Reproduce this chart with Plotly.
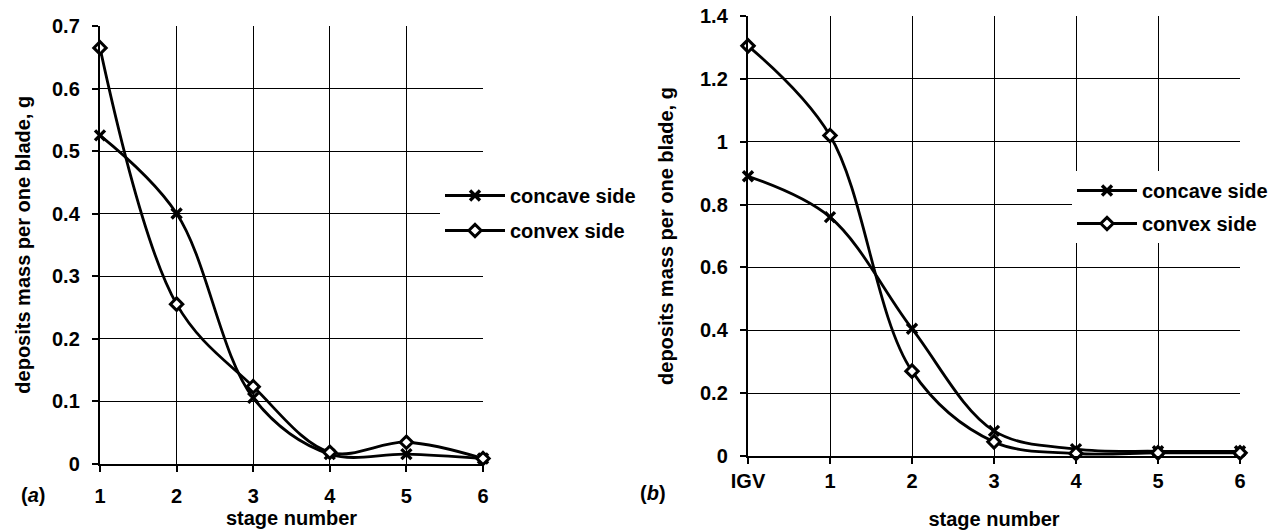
import plotly.graph_objects as go

W, H = 1286, 530

# ---------- data ----------
stages_a = ["1", "2", "3", "4", "5", "6"]
concave_a = [0.525, 0.40, 0.105, 0.015, 0.015, 0.008]
convex_a = [0.665, 0.255, 0.123, 0.018, 0.034, 0.008]

stages_b = ["IGV", "1", "2", "3", "4", "5", "6"]
concave_b = [0.89, 0.76, 0.405, 0.08, 0.022, 0.015, 0.015]
convex_b = [1.305, 1.02, 0.27, 0.045, 0.008, 0.01, 0.01]

series_names = ["concave side", "convex side"]
y_title = "deposits mass per one blade, g"
x_title = "stage number"
panel_labels = ["(<i>a</i>)", "(<i>b</i>)"]

FONT = "Liberation Sans, Arial, sans-serif"
FS = 20
TXT = dict(family=FONT, size=FS, color="black", weight="bold")

fig = go.Figure()

def px_x(p):
    return p / W

def px_y(p):
    return 1 - p / H

def add_pair(xs, ycc, ycv, xa, ya, legend):
    fig.add_trace(go.Scatter(
        x=xs, y=ycc, name=series_names[0], mode="lines+markers",
        line=dict(color="black", width=2.8, shape="spline", smoothing=1.0),
        marker=dict(symbol="x-thin", size=10, line=dict(color="black", width=3.4)),
        xaxis=xa, yaxis=ya, legend=legend, legendgroup=legend + "cc",
        cliponaxis=False))
    fig.add_trace(go.Scatter(
        x=xs, y=ycv, name=series_names[1], mode="lines+markers",
        line=dict(color="black", width=2.8, shape="spline", smoothing=1.0),
        marker=dict(symbol="diamond", size=9.5, color="white",
                    line=dict(color="black", width=3)),
        xaxis=xa, yaxis=ya, legend=legend, legendgroup=legend + "cv",
        cliponaxis=False))

add_pair(stages_a, concave_a, convex_a, "x", "y", "legend")
add_pair(stages_b, concave_b, convex_b, "x2", "y2", "legend2")

axis_common = dict(
    automargin=False,
    showline=True, linecolor="black", linewidth=2.4, mirror=False,
    showgrid=True, gridcolor="black", gridwidth=1.4,
    ticks="outside", ticklen=6, tickwidth=2, tickcolor="black",
    zeroline=False,
    tickfont=TXT,
    title_font=TXT,
)

fig.update_layout(
    template="none",
    width=W, height=H,
    margin=dict(l=0, r=0, t=0, b=0, autoexpand=False),
    paper_bgcolor="white", plot_bgcolor="white",
    font=TXT,
    xaxis=dict(**axis_common, type="category", range=[0, 5],
               domain=[px_x(100), px_x(483)], anchor="y",
               title=dict(text=x_title, standoff=2), ticklabelstandoff=7),
    yaxis=dict(**axis_common, range=[0, 0.7], dtick=0.1,
               domain=[px_y(463.5), px_y(26)], anchor="x",
               title=dict(text=y_title, standoff=16), ticklabelstandoff=8),
    xaxis2=dict(**axis_common, type="category", range=[0, 6],
                domain=[px_x(748), px_x(1240)], anchor="y2",
                title=dict(text=x_title, standoff=22), ticklabelstandoff=0),
    yaxis2=dict(**axis_common, range=[0, 1.4], dtick=0.2,
                domain=[px_y(456), px_y(16)], anchor="x2",
                title=dict(text=y_title, standoff=21), ticklabelstandoff=8),
    legend=dict(x=px_x(440), y=px_y(176), xanchor="left", yanchor="top",
                bgcolor="white", borderwidth=0, font=TXT,
                tracegroupgap=6, itemwidth=60),
    legend2=dict(x=px_x(1072), y=px_y(171), xanchor="left", yanchor="top",
                 bgcolor="white", borderwidth=0, font=TXT,
                 tracegroupgap=4, itemwidth=60),
    annotations=[
        dict(text=panel_labels[0], x=px_x(33), y=px_y(495), xref="paper", yref="paper",
             xanchor="center", yanchor="middle",
             showarrow=False, font=dict(family=FONT, size=FS, color="black")),
        dict(text=panel_labels[1], x=px_x(653), y=px_y(493), xref="paper", yref="paper",
             xanchor="center", yanchor="middle",
             showarrow=False, font=dict(family=FONT, size=FS, color="black")),
    ],
)

fig.write_html("out.html")
